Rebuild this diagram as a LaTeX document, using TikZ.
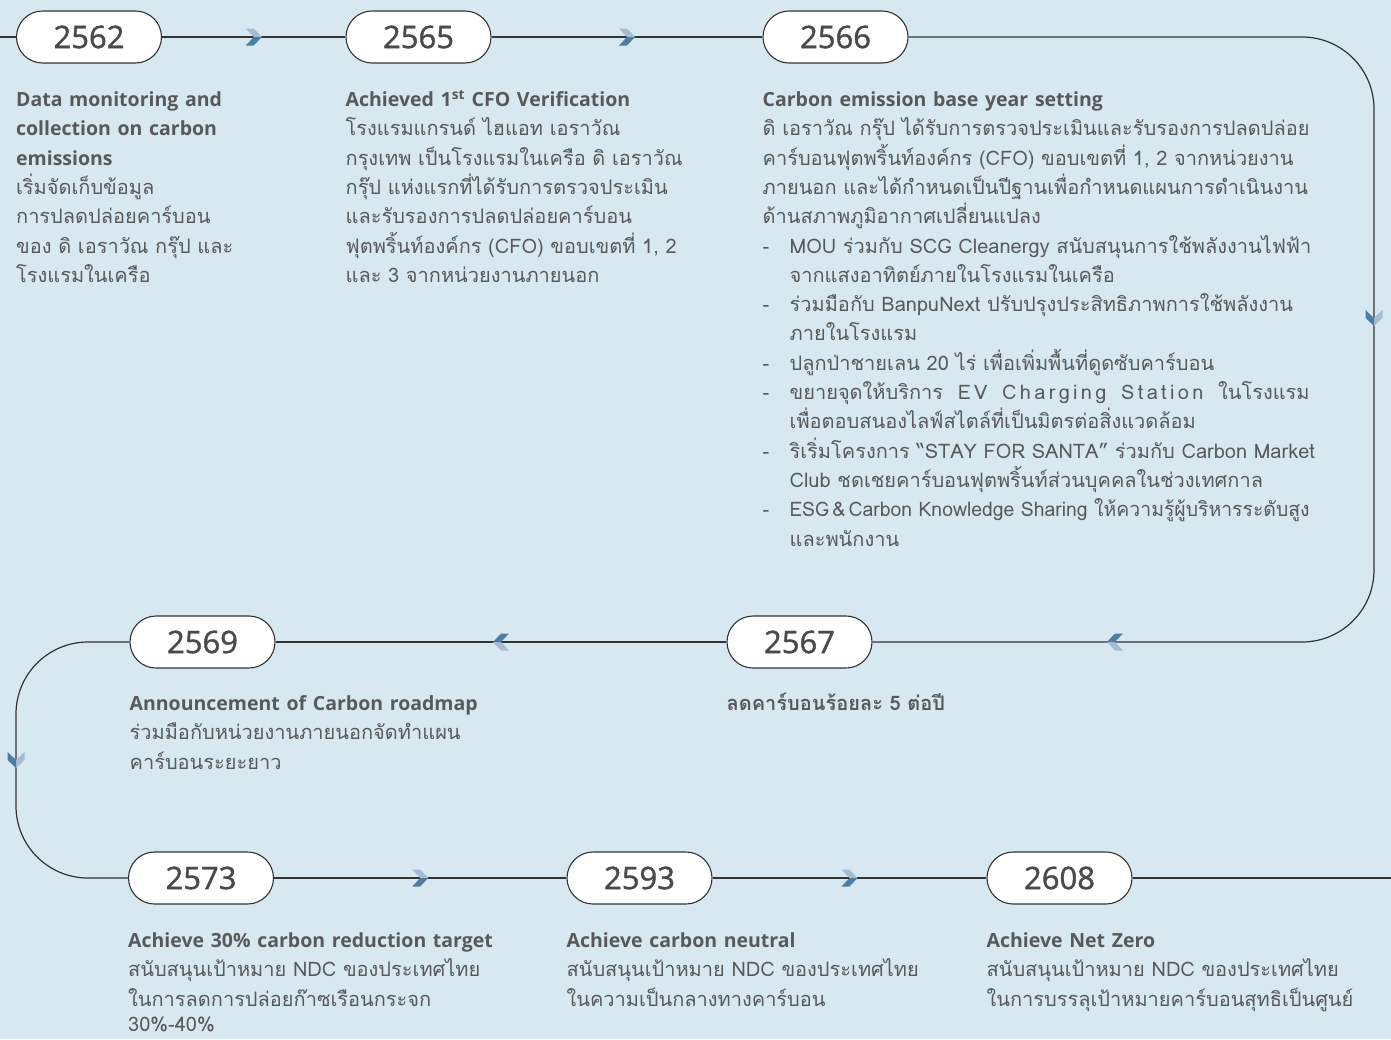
\documentclass[tikz,border=0pt]{standalone}
\usepackage{fontspec}
\setmainfont{Open Sans}
\newfontfamily\thaifont[Script=Thai]{Loma}
\newfontfamily\yearfont[FakeBold=1.3]{Open Sans}
\usetikzlibrary{positioning,calc}

\definecolor{bgblue}{HTML}{D8E8F1}
\definecolor{linegrey}{HTML}{333333}
\definecolor{txtgrey}{HTML}{58595B}
\definecolor{yeargrey}{HTML}{4A4A4C}
\definecolor{chevdark}{HTML}{4E7DA4}
\definecolor{chevlight}{HTML}{A4BDD2}

\newcommand\hd[1]{{\fontsize{19.5pt}{29.3pt}\selectfont\bfseries #1\par}}
\newcommand\bul{\makebox[27pt][l]{-}}
\newcommand\cont{\hspace*{27pt}}

\tikzset{
  year/.style={draw=linegrey, line width=1.1pt, fill=white, rounded corners=26pt,
    minimum width=145pt, minimum height=52pt, inner sep=0pt, text=yeargrey,
    font=\yearfont\fontsize{31pt}{31pt}\selectfont},
  info/.style={align=left, text width=560pt, inner sep=0pt, text=txtgrey,
    font=\fontsize{20pt}{29.3pt}\selectfont},
  timeline/.style={draw=linegrey, line width=1.2pt},
  chev/.pic={
    \fill[chevlight] (-8,-8.5) -- (0,-8.5) -- (8,0) -- (0,0) -- cycle;
    \fill[chevdark] (0,0) -- (8,0) -- (0,8.5) -- (-8,8.5) -- cycle;
  }
}

\begin{document}
\begin{tikzpicture}[x=1pt, y=-1pt]
  \useasboundingbox (0,0) rectangle (1391,1039);
  \fill[bgblue] (0,0) rectangle (1391,1039);

  % year pills
  \node[year] (y2562) at (89,37)     {2562};
  \node[year] (y2565) at (418.5,37)  {2565};
  \node[year] (y2566) at (835.5,37)  {2566};
  \node[year] (y2567) at (799.5,642) {2567};
  \node[year] (y2569) at (202.5,642) {2569};
  \node[year] (y2573) at (201,878)   {2573};
  \node[year] (y2593) at (639.5,878) {2593};
  \node[year] (y2608) at (1059.5,878){2608};

  \coordinate (lstart) at (0,37);
  \coordinate (rend)   at (1391,878);
  \coordinate (rcol)   at (1374,0);
  \coordinate (lcol)   at (16,0);

  % the timeline
  \draw[timeline] (lstart) -- (y2562) -- (y2565) -- (y2566);
  \draw[timeline, rounded corners=72pt] (y2566) -- (y2566 -| rcol) -- (y2567 -| rcol) -- (y2567);
  \draw[timeline] (y2567) -- (y2569);
  \draw[timeline, rounded corners=72pt] (y2569) -- (y2569 -| lcol) -- (y2573 -| lcol) -- (y2573);
  \draw[timeline] (y2573) -- (y2593) -- (y2608) -- (rend);

  % chevrons
  \pic at ($(y2562.east)!.5!(y2565.west)$) {chev};
  \pic at ($(y2565.east)!.5!(y2566.west)$) {chev};
  \pic[rotate=-90] at (1374,318) {chev};
  \pic[rotate=180] at (1115,642) {chev};
  \pic[rotate=180] at ($(y2569.east)!.5!(y2567.west)$) {chev};
  \pic[rotate=-90] at (16,760) {chev};
  \pic at ($(y2573.east)!.5!(y2593.west)$) {chev};
  \pic at ($(y2593.east)!.5!(y2608.west)$) {chev};

  % descriptions
  \node[info, below right=28pt and 0pt of y2562.south west] (d2562)
    {\hd{Data monitoring and\\collection on carbon\\emissions}
     {\thaifont เริ่มจัดเก็บข้อมูล\\การปลดปล่อยคาร์บอน\\ของ ดิ เอราวัณ กรุ๊ป และ\\โรงแรมในเครือ}};
  \node[info, below right=28pt and 0pt of y2565.south west] (d2565)
    {\hd{Achieved 1\smash{\textsuperscript{st}} CFO Verification}
     {\thaifont โรงแรมแกรนด์ ไฮแอท เอราวัณ\\กรุงเทพ เป็นโรงแรมในเครือ ดิ เอราวัณ\\กรุ๊ป แห่งแรกที่ได้รับการตรวจประเมิน\\และรับรองการปลดปล่อยคาร์บอน\\ฟุตพริ้นท์องค์กร (CFO) ขอบเขตที่ 1, 2\\และ 3 จากหน่วยงานภายนอก}};
  \node[info, below right=28pt and 0pt of y2566.south west] (d2566)
    {\hd{Carbon emission base year setting}
     {\thaifont ดิ เอราวัณ กรุ๊ป ได้รับการตรวจประเมินและรับรองการปลดปล่อย\\
      คาร์บอนฟุตพริ้นท์องค์กร (CFO) ขอบเขตที่ 1, 2 จากหน่วยงาน\\
      ภายนอก และได้กำหนดเป็นปีฐานเพื่อกำหนดแผนการดำเนินงาน\\
      ด้านสภาพภูมิอากาศเปลี่ยนแปลง\\
      \bul MOU ร่วมกับ SCG Cleanergy สนับสนุนการใช้พลังงานไฟฟ้า\\
      \cont จากแสงอาทิตย์ภายในโรงแรมในเครือ\\
      \bul ร่วมมือกับ BanpuNext ปรับปรุงประสิทธิภาพการใช้พลังงาน\\
      \cont ภายในโรงแรม\\
      \bul ปลูกป่าชายเลน 20 ไร่ เพื่อเพิ่มพื้นที่ดูดซับคาร์บอน\\
      \bul \makebox[520pt][l]{ขยายจุดให้บริการ\hfill E\,V\hfill C\,h\,a\,r\,g\,i\,n\,g\hfill S\,t\,a\,t\,i\,o\,n\hfill ในโรงแรม}\\
      \cont เพื่อตอบสนองไลฟ์สไตล์ที่เป็นมิตรต่อสิ่งแวดล้อม\\
      \bul ริเริ่มโครงการ “STAY FOR SANTA” ร่วมกับ Carbon Market\\
      \cont Club ชดเชยคาร์บอนฟุตพริ้นท์ส่วนบุคคลในช่วงเทศกาล\\
      \bul \resizebox{520pt}{\height}{ESG\,\&\,Carbon Knowledge Sharing ให้ความรู้ผู้บริหารระดับสูง}\\
      \cont และพนักงาน}};
  \node[info, below right=28pt and 0pt of y2567.south west, yshift=4pt] (d2567)
    {{\thaifont\bfseries ลดคาร์บอนร้อยละ 5 ต่อปี}};
  \node[info, below right=28pt and 0pt of y2569.south west, yshift=1pt] (d2569)
    {\hd{Announcement of Carbon roadmap}
     {\thaifont ร่วมมือกับหน่วยงานภายนอกจัดทำแผน\\คาร์บอนระยะยาว}};
  \node[info, below right=28pt and 0pt of y2573.south west] (d2573)
    {\hd{Achieve 30\% carbon reduction target}
     {\thaifont สนับสนุนเป้าหมาย NDC ของประเทศไทย\\ในการลดการปล่อยก๊าซเรือนกระจก\\[-4pt]30\%-40\%}};
  \node[info, below right=28pt and 0pt of y2593.south west] (d2593)
    {\hd{Achieve carbon neutral}
     {\thaifont สนับสนุนเป้าหมาย NDC ของประเทศไทย\\ในความเป็นกลางทางคาร์บอน}};
  \node[info, below right=28pt and 0pt of y2608.south west] (d2608)
    {\hd{Achieve Net Zero}
     {\thaifont สนับสนุนเป้าหมาย NDC ของประเทศไทย\\ในการบรรลุเป้าหมายคาร์บอนสุทธิเป็นศูนย์}};
\end{tikzpicture}
\end{document}
